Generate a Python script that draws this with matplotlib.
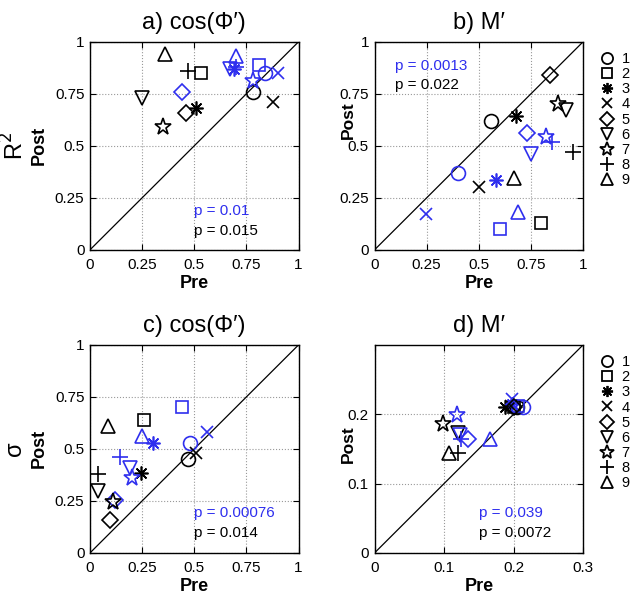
import matplotlib
matplotlib.use("Agg")
import matplotlib.pyplot as plt
from matplotlib.lines import Line2D

plt.rcParams['font.family'] = ['Liberation Sans', 'DejaVu Sans']

BLUE = '#2f2fee'

# marker codes for subjects 1..9
markers = ['o', 's', (8, 2, 0), 'x', 'D', 'v', '*', '+', '^']
msizes = [10, 9, 10, 9, 8.5, 10, 12.5, 12, 10]
subjects = ['1', '2', '3', '4', '5', '6', '7', '8', '9']

# panel a) cos(phi') - R^2
a_black_pre = [0.78, 0.53, 0.51, 0.875, 0.46, 0.25, 0.35, 0.47, 0.36]
a_black_post = [0.76, 0.85, 0.68, 0.71, 0.66, 0.73, 0.59, 0.86, 0.94]
a_blue_pre = [0.84, 0.81, 0.69, 0.90, 0.44, 0.67, 0.78, 0.70, 0.70]
a_blue_post = [0.85, 0.89, 0.87, 0.85, 0.76, 0.87, 0.81, 0.88, 0.93]

# panel b) M' - R^2
b_black_pre = [0.56, 0.80, 0.68, 0.50, 0.84, 0.92, 0.88, 0.95, 0.67]
b_black_post = [0.62, 0.13, 0.645, 0.30, 0.84, 0.67, 0.70, 0.47, 0.345]
b_blue_pre = [0.40, 0.60, 0.58, 0.245, 0.73, 0.75, 0.82, 0.85, 0.69]
b_blue_post = [0.37, 0.10, 0.335, 0.17, 0.56, 0.46, 0.54, 0.52, 0.18]

# panel c) cos(phi') - sigma
c_black_pre = [0.47, 0.26, 0.245, 0.51, 0.095, 0.04, 0.11, 0.04, 0.085]
c_black_post = [0.45, 0.64, 0.385, 0.48, 0.16, 0.30, 0.245, 0.38, 0.61]
c_blue_pre = [0.48, 0.44, 0.30, 0.56, 0.12, 0.19, 0.20, 0.145, 0.25]
c_blue_post = [0.53, 0.70, 0.53, 0.58, 0.255, 0.41, 0.36, 0.46, 0.56]

# panel d) M' - sigma
d_black_pre = [0.205, 0.20, 0.187, 0.196, 0.20, 0.12, 0.099, 0.12, 0.107]
d_black_post = [0.21, 0.21, 0.211, 0.212, 0.21, 0.173, 0.186, 0.144, 0.144]
d_blue_pre = [0.213, 0.207, 0.197, 0.197, 0.135, 0.123, 0.118, 0.124, 0.166]
d_blue_post = [0.21, 0.212, 0.215, 0.222, 0.165, 0.17, 0.199, 0.165, 0.164]

titles = ['a) cos(\u03a6\u2032)', 'b) M\u2032', 'c) cos(\u03a6\u2032)', 'd) M\u2032']
p_blue = ['p = 0.01', 'p = 0.0013', 'p = 0.00076', 'p = 0.039']
p_black = ['p = 0.015', 'p = 0.022', 'p = 0.014', 'p = 0.0072']

fig = plt.figure(figsize=(6.38, 6.05), dpi=100)

W, H = 0.327, 0.344
positions = [[0.141, 0.587, W, H], [0.587, 0.587, W, H],
             [0.141, 0.086, W, H], [0.587, 0.086, W, H]]

data = [
    (a_black_pre, a_black_post, a_blue_pre, a_blue_post),
    (b_black_pre, b_black_post, b_blue_pre, b_blue_post),
    (c_black_pre, c_black_post, c_blue_pre, c_blue_post),
    (d_black_pre, d_black_post, d_blue_pre, d_blue_post),
]

limits = [1, 1, 1, 0.3]
ticks_x = [[0, 0.25, 0.5, 0.75, 1]] * 3 + [[0, 0.1, 0.2, 0.3]]
ticks_y = [[0, 0.25, 0.5, 0.75, 1]] * 3 + [[0, 0.1, 0.2]]
ptext_pos = [(0.50, 0.185), (0.10, 0.885), (0.50, 0.19), (0.50, 0.19)]
post_y = [0.5, 0.625, 0.5, 0.525]

axes = []
for i in range(4):
    ax = fig.add_axes(positions[i])
    axes.append(ax)
    lim = limits[i]
    ax.plot([0, lim], [0, lim], color='black', lw=0.9, zorder=1)
    bx, by, ux, uy = data[i]
    for k in range(9):
        for xs, ys, col in ((bx, by, 'black'), (ux, uy, BLUE)):
            ax.plot(xs[k], ys[k], linestyle='none', marker=markers[k],
                    markersize=msizes[k], markerfacecolor='none',
                    markeredgecolor=col, markeredgewidth=1.2, zorder=3)
    ax.set_xlim(0, lim)
    ax.set_ylim(0, lim)
    ax.set_xticks(ticks_x[i])
    ax.set_yticks(ticks_y[i])
    ax.set_xticklabels([('%g' % t) for t in ticks_x[i]])
    ax.set_yticklabels([('%g' % t) for t in ticks_y[i]])
    ax.tick_params(direction='in', labelsize=11, length=4, width=0.8, pad=4,
                   top=True, right=True)
    ax.tick_params(axis='x', pad=6)
    ax.grid(True, linestyle=':', color='#999999', lw=0.8)
    ax.set_axisbelow(True)
    for s in ax.spines.values():
        s.set_linewidth(1.0)
    ax.set_title(titles[i], fontsize=17, pad=9)
    ax.set_xlabel('Pre', fontsize=13, fontweight='bold', labelpad=2)
    tx, ty = ptext_pos[i]
    ax.text(tx, ty, p_blue[i], color=BLUE, fontsize=11, transform=ax.transAxes,
            va='center')
    ax.text(tx, ty - 0.095, p_black[i], color='black', fontsize=11,
            transform=ax.transAxes, va='center')

# y labels
for ax, sym in ((axes[0], 'R$^2$'), (axes[2], '\u03c3')):
    ax.text(-0.36, 0.5, sym, rotation=90, fontsize=17, transform=ax.transAxes,
            va='center', ha='center')
    ax.text(-0.245, 0.5, 'Post', rotation=90, fontsize=13, fontweight='bold',
            transform=ax.transAxes, va='center', ha='center')
for ax, py in ((axes[1], post_y[1]), (axes[3], post_y[3])):
    ax.text(-0.125, py, 'Post', rotation=90, fontsize=12.5, fontweight='bold',
            transform=ax.transAxes, va='center', ha='center')

# subject legends
handles = [Line2D([], [], linestyle='none', marker=m, markersize=s * 0.8,
                  markerfacecolor='none', markeredgecolor='black',
                  markeredgewidth=1.3) for m, s in zip(markers, msizes)]
for ax in (axes[1], axes[3]):
    ax.legend(handles, subjects, loc='upper left', bbox_to_anchor=(1.03, 1.0),
              frameon=False, fontsize=10.5, handlelength=1.0, handletextpad=0.5,
              labelspacing=0.08, borderaxespad=0.3)

fig.savefig('out.png', dpi=100)
